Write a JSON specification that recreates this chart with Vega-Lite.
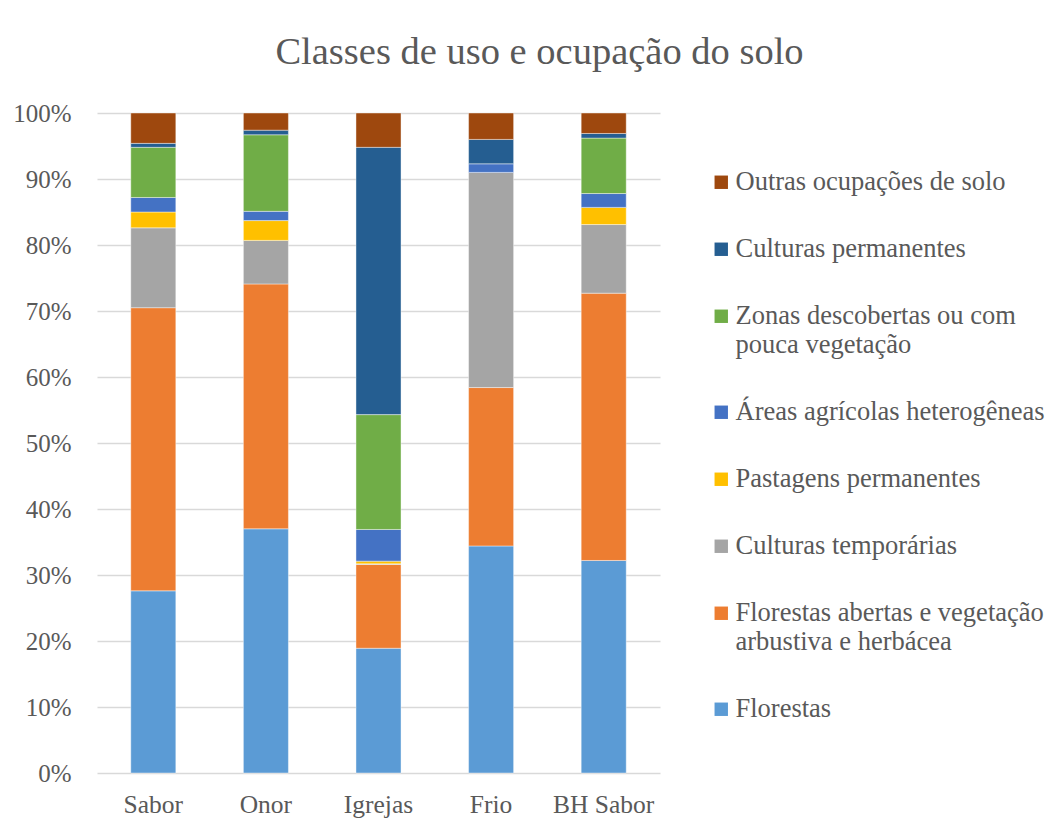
{
  "$schema": "https://vega.github.io/schema/vega-lite/v6.json",
  "autosize": {"type": "none"},
  "padding": {"left": 97, "top": 113, "right": 403, "bottom": 49},
  "width": 563,
  "height": 660,
  "background": "#ffffff",
  "title": {
    "text": "Classes de uso e ocupação do solo",
    "font": "Liberation Serif",
    "fontSize": 38.5,
    "fontWeight": "normal",
    "color": "#595959",
    "anchor": "middle",
    "frame": "group",
    "dx": 161,
    "offset": 29
  },
  "data": {
    "values": [
      {"bacia": "Sabor", "classe": "Florestas", "ordem": 1, "valor": 27.6},
      {"bacia": "Sabor", "classe": "Florestas abertas e vegetação arbustiva e herbácea", "ordem": 2, "valor": 42.9},
      {"bacia": "Sabor", "classe": "Culturas temporárias", "ordem": 3, "valor": 12.1},
      {"bacia": "Sabor", "classe": "Pastagens permanentes", "ordem": 4, "valor": 2.4},
      {"bacia": "Sabor", "classe": "Áreas agrícolas heterogêneas", "ordem": 5, "valor": 2.2},
      {"bacia": "Sabor", "classe": "Zonas descobertas ou com pouca vegetação", "ordem": 6, "valor": 7.6},
      {"bacia": "Sabor", "classe": "Culturas permanentes", "ordem": 7, "valor": 0.6},
      {"bacia": "Sabor", "classe": "Outras ocupações de solo", "ordem": 8, "valor": 4.6},

      {"bacia": "Onor", "classe": "Florestas", "ordem": 1, "valor": 37.0},
      {"bacia": "Onor", "classe": "Florestas abertas e vegetação arbustiva e herbácea", "ordem": 2, "valor": 37.1},
      {"bacia": "Onor", "classe": "Culturas temporárias", "ordem": 3, "valor": 6.6},
      {"bacia": "Onor", "classe": "Pastagens permanentes", "ordem": 4, "valor": 3.0},
      {"bacia": "Onor", "classe": "Áreas agrícolas heterogêneas", "ordem": 5, "valor": 1.4},
      {"bacia": "Onor", "classe": "Zonas descobertas ou com pouca vegetação", "ordem": 6, "valor": 11.6},
      {"bacia": "Onor", "classe": "Culturas permanentes", "ordem": 7, "valor": 0.7},
      {"bacia": "Onor", "classe": "Outras ocupações de solo", "ordem": 8, "valor": 2.6},

      {"bacia": "Igrejas", "classe": "Florestas", "ordem": 1, "valor": 18.9},
      {"bacia": "Igrejas", "classe": "Florestas abertas e vegetação arbustiva e herbácea", "ordem": 2, "valor": 12.7},
      {"bacia": "Igrejas", "classe": "Culturas temporárias", "ordem": 3, "valor": 0.1},
      {"bacia": "Igrejas", "classe": "Pastagens permanentes", "ordem": 4, "valor": 0.4},
      {"bacia": "Igrejas", "classe": "Áreas agrícolas heterogêneas", "ordem": 5, "valor": 4.8},
      {"bacia": "Igrejas", "classe": "Zonas descobertas ou com pouca vegetação", "ordem": 6, "valor": 17.4},
      {"bacia": "Igrejas", "classe": "Culturas permanentes", "ordem": 7, "valor": 40.5},
      {"bacia": "Igrejas", "classe": "Outras ocupações de solo", "ordem": 8, "valor": 5.2},

      {"bacia": "Frio", "classe": "Florestas", "ordem": 1, "valor": 34.4},
      {"bacia": "Frio", "classe": "Florestas abertas e vegetação arbustiva e herbácea", "ordem": 2, "valor": 24.0},
      {"bacia": "Frio", "classe": "Culturas temporárias", "ordem": 3, "valor": 32.6},
      {"bacia": "Frio", "classe": "Áreas agrícolas heterogêneas", "ordem": 5, "valor": 1.3},
      {"bacia": "Frio", "classe": "Culturas permanentes", "ordem": 7, "valor": 3.7},
      {"bacia": "Frio", "classe": "Outras ocupações de solo", "ordem": 8, "valor": 4.0},

      {"bacia": "BH Sabor", "classe": "Florestas", "ordem": 1, "valor": 32.2},
      {"bacia": "BH Sabor", "classe": "Florestas abertas e vegetação arbustiva e herbácea", "ordem": 2, "valor": 40.5},
      {"bacia": "BH Sabor", "classe": "Culturas temporárias", "ordem": 3, "valor": 10.4},
      {"bacia": "BH Sabor", "classe": "Pastagens permanentes", "ordem": 4, "valor": 2.6},
      {"bacia": "BH Sabor", "classe": "Áreas agrícolas heterogêneas", "ordem": 5, "valor": 2.1},
      {"bacia": "BH Sabor", "classe": "Zonas descobertas ou com pouca vegetação", "ordem": 6, "valor": 8.4},
      {"bacia": "BH Sabor", "classe": "Culturas permanentes", "ordem": 7, "valor": 0.7},
      {"bacia": "BH Sabor", "classe": "Outras ocupações de solo", "ordem": 8, "valor": 3.1}
    ]
  },
  "mark": {"type": "bar", "stroke": "#ffffff", "strokeWidth": 0.6, "strokeOpacity": 0.7},
  "encoding": {
    "x": {
      "field": "bacia",
      "type": "nominal",
      "sort": ["Sabor", "Onor", "Igrejas", "Frio", "BH Sabor"],
      "scale": {"paddingInner": 0.6, "paddingOuter": 0.3},
      "axis": {
        "title": null,
        "labelAngle": 0,
        "labelFont": "Liberation Serif",
        "labelFontSize": 25.5,
        "labelColor": "#595959",
        "labelPadding": 19,
        "domain": false,
        "ticks": false
      }
    },
    "y": {
      "field": "valor",
      "type": "quantitative",
      "stack": "normalize",
      "scale": {"domain": [0, 1]},
      "axis": {
        "title": null,
        "values": [0, 0.1, 0.2, 0.3, 0.4, 0.5, 0.6, 0.7, 0.8, 0.9, 1],
        "format": ".0%",
        "labelFont": "Liberation Serif",
        "labelFontSize": 25,
        "labelColor": "#595959",
        "labelPadding": 26,
        "domain": false,
        "ticks": false,
        "gridColor": "#d9d9d9",
        "gridWidth": 1.5
      }
    },
    "color": {
      "field": "classe",
      "type": "nominal",
      "scale": {
        "domain": [
          "Outras ocupações de solo",
          "Culturas permanentes",
          "Zonas descobertas ou com pouca vegetação",
          "Áreas agrícolas heterogêneas",
          "Pastagens permanentes",
          "Culturas temporárias",
          "Florestas abertas e vegetação arbustiva e herbácea",
          "Florestas"
        ],
        "range": ["#9E480E", "#255E91", "#70AD47", "#4472C4", "#FFC000", "#A5A5A5", "#ED7D31", "#5B9BD5"]
      },
      "legend": {
        "title": null,
        "orient": "none",
        "legendX": 611,
        "legendY": 56,
        "padding": 0,
        "symbolType": "square",
        "symbolSize": 180,
        "symbolStrokeWidth": 0,
        "labelFont": "Liberation Serif",
        "labelFontSize": 26.5,
        "labelColor": "#595959",
        "labelOffset": 1,
        "labelLimit": 420,
        "rowPadding": 40,
        "labelExpr": "datum.label == 'Zonas descobertas ou com pouca vegetação' ? ['Zonas descobertas ou com', 'pouca vegetação'] : datum.label == 'Florestas abertas e vegetação arbustiva e herbácea' ? ['Florestas abertas e vegetação', 'arbustiva e herbácea'] : datum.label"
      }
    },
    "order": {"field": "ordem", "type": "quantitative"}
  },
  "config": {
    "view": {"stroke": null}
  }
}
